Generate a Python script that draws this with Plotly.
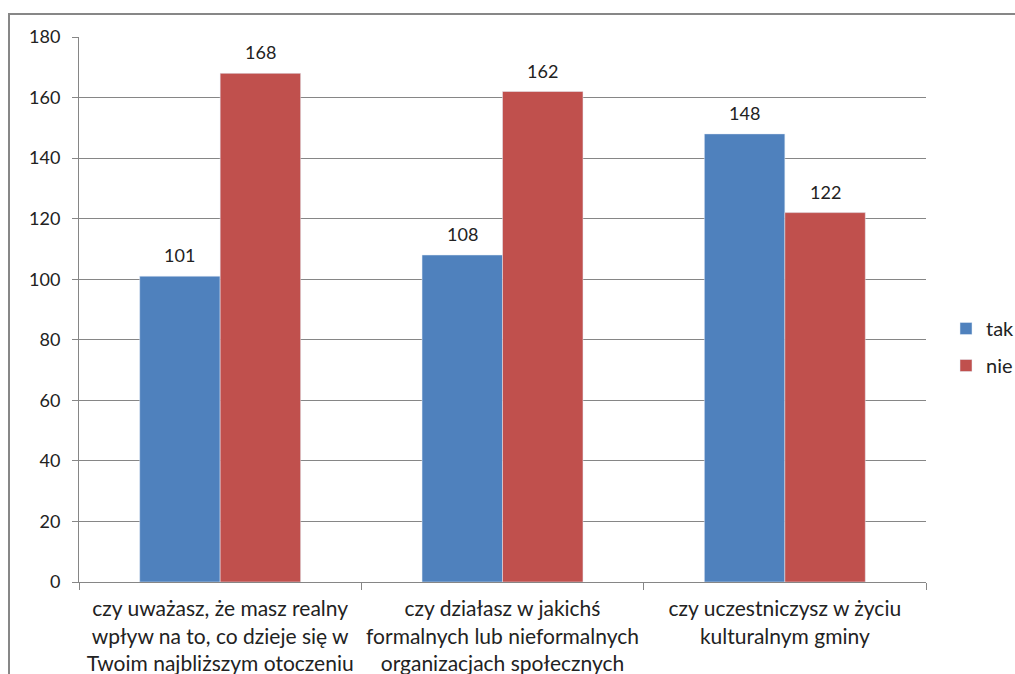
import plotly.graph_objects as go

categories = [
    "czy uważasz, że masz realny<br>wpływ na to, co dzieje się w<br>Twoim najbliższym otoczeniu",
    "czy działasz w jakichś<br>formalnych lub nieformalnych<br>organizacjach społecznych",
    "czy uczestniczysz w życiu<br>kulturalnym gminy",
]
tak = [101, 108, 148]
nie = [168, 162, 122]
y_ticks = [0, 20, 40, 60, 80, 100, 120, 140, 160, 180]

FONT = "Lato, 'Open Sans', sans-serif"
W, H = 1015, 674
L, T = 79, 37
R, B = W - 926, H - 582
pw, ph = W - L - R, H - T - B
BARGAP = 0.43
bar_px = pw / 3 * (1 - BARGAP) / 2

fig = go.Figure()
fig.add_trace(go.Bar(name="tak", x=categories, y=tak, marker_color="#4F81BD",
                     legendgroup="tak"))
fig.add_trace(go.Bar(name="nie", x=categories, y=nie, marker_color="#C0504D",
                     legendgroup="nie"))

annotations = []
for vals, sx in ((tak, -bar_px / 2), (nie, bar_px / 2)):
    for c, v in zip(categories, vals):
        annotations.append(dict(x=c, y=v, text=str(v), showarrow=False,
                                xshift=sx, yshift=21, yanchor="middle",
                                font=dict(size=18, color="#222")))

fig.update_layout(
    width=W, height=H,
    margin=dict(l=L, r=R, t=T, b=B),
    barmode="group", bargap=BARGAP, bargroupgap=0,
    plot_bgcolor="white", paper_bgcolor="white",
    font=dict(family=FONT, size=18, color="#222"),
    showlegend=True,
    legend=dict(xref="container", yref="container", x=946 / W,
                y=1 - 347 / H,
                xanchor="left", yanchor="middle",
                font=dict(size=20), itemwidth=30, tracegroupgap=8,
                bgcolor="rgba(0,0,0,0)"),
    xaxis=dict(showline=True, linecolor="#868686", linewidth=1, automargin=False,
               ticks="outside", tickson="boundaries", ticklen=7, tickcolor="#868686",
               ticklabelstandoff=8,
               tickfont=dict(size=21, color="#222"), showgrid=False),
    yaxis=dict(range=[0, 180], tickvals=y_ticks, showline=True, linecolor="#868686",
               linewidth=1, ticks="outside", ticklen=6, tickcolor="#868686",
               automargin=False, ticklabelstandoff=8,
               gridcolor="#868686", gridwidth=1, zeroline=False,
               tickfont=dict(size=18, color="#222")),
    annotations=annotations,
    shapes=[dict(type="rect", xref="paper", yref="paper",
                 x0=(9 - L) / pw, x1=(1040 - L) / pw,
                 y0=-(700 - 582) / ph, y1=1 + (37 - 14) / ph,
                 line=dict(color="#878787", width=2), layer="above")],
)

fig.write_html(
    "out.html",
    config={"displayModeBar": False},
    post_script="document.body.style.margin='0';document.body.style.overflow='hidden';",
)
